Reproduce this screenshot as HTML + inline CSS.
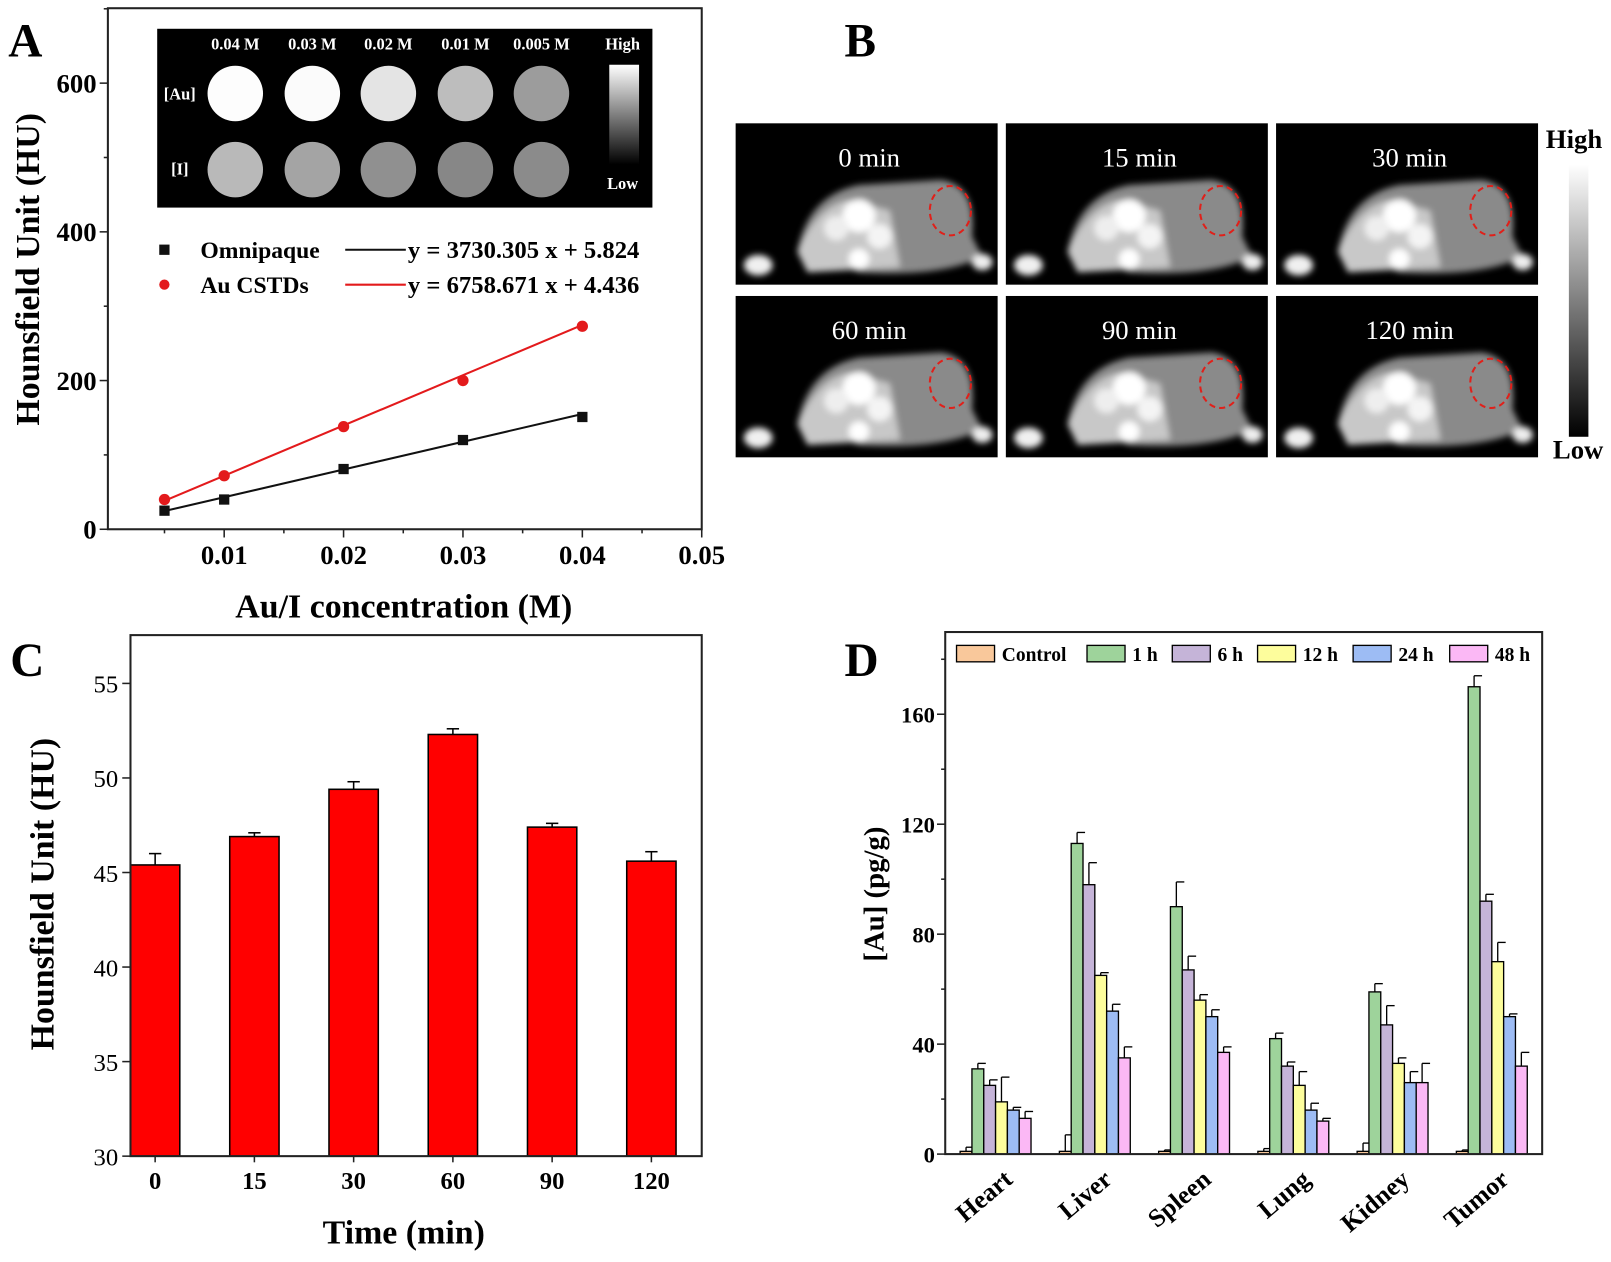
<!DOCTYPE html>
<html><head><meta charset="utf-8"><style>
html,body{margin:0;padding:0;background:#fff}
svg{display:block}
text{font-family:"Liberation Serif",serif;font-weight:bold;fill:#000}
</style></head><body>
<svg id="fig" width="1611" height="1262" viewBox="0 0 1568 1228" preserveAspectRatio="none" xmlns="http://www.w3.org/2000/svg">
<defs>
<linearGradient id="cbar" x1="0" y1="0" x2="0" y2="1"><stop offset="0" stop-color="#fff"/><stop offset="1" stop-color="#000"/></linearGradient>
<filter id="blur" x="-20%" y="-20%" width="140%" height="140%"><feGaussianBlur stdDeviation="3"/></filter>
</defs>
<g id="panelA"></g>
<g id="panelB"></g>
<g id="panelC"></g>
<g id="panelD"></g>
</svg>
<script>
// ---- Panel A data ----
const aConc = [0.005, 0.01, 0.02, 0.03, 0.04];
const aOmni = [25, 40, 81, 120, 151];
const aAu = [40, 72, 138, 200, 273];
const aOmniFit = [3730.305, 5.824];
const aAuFit = [6758.671, 4.436];
const aXTicks = [0.01, 0.02, 0.03, 0.04, 0.05];
const aYTicks = [0, 200, 400, 600];
const aInsetLabels = ["0.04 M", "0.03 M", "0.02 M", "0.01 M", "0.005 M"];
// ---- Panel B ----
const bTimes = ["0 min", "15 min", "30 min", "60 min", "90 min", "120 min"];
// ---- Panel C data ----
const cCats = ["0", "15", "30", "60", "90", "120"];
const cVals = [45.4, 46.9, 49.4, 52.3, 47.4, 45.6];
const cErrs = [0.6, 0.2, 0.4, 0.3, 0.2, 0.5];
const cYTicks = [30, 35, 40, 45, 50, 55];
// ---- Panel D data ----
const dOrgans = ["Heart", "Liver", "Spleen", "Lung", "Kidney", "Tumor"];
const dSeries = ["Control", "1 h", "6 h", "12 h", "24 h", "48 h"];
const dControl = [1, 1, 1, 1, 1, 1];
const d1h = [31, 113, 90, 42, 59, 170];
const d6h = [25, 98, 67, 32, 47, 92];
const d12h = [19, 65, 56, 25, 33, 70];
const d24h = [16, 52, 50, 16, 26, 50];
const d48h = [13, 35, 37, 12, 26, 32];
const dErrControl = [1.5, 6, 0.5, 1, 3, 0.5];
const dErr1h = [2, 4, 9, 2, 3, 4];
const dErr6h = [2, 8, 5, 1.5, 7, 2.5];
const dErr12h = [9, 1, 2, 5, 2, 7];
const dErr24h = [1, 2.5, 2.5, 2.5, 4, 1];
const dErr48h = [2.5, 4, 2, 1, 7, 5];
const dYTicks = [0, 40, 80, 120, 160];

const NS = "http://www.w3.org/2000/svg";
function mk(parent, tag, attrs, text) {
  const e = document.createElementNS(NS, tag);
  for (const k in attrs) e.setAttribute(k, attrs[k]);
  if (text !== undefined) e.textContent = text;
  parent.appendChild(e);
  return e;
}

// ================= Panel A =================
(function(){
  const g = document.getElementById('panelA');
  const L=105,R=683,T=8,B=515;
  const x = v => 102 + (v/0.05)*(683-102);
  const y = v => 515 - v*0.7235;
  let e = mk(g,'text',{x:8,y:55,'font-size':46},'A');
   
  e = mk(g,'rect',{x:L,y:T,width:R-L,height:B-T,fill:'none',stroke:'#222','stroke-width':2});
   
  aXTicks.forEach(t=>{
    mk(g,'line',{x1:x(t),x2:x(t),y1:B,y2:B+8,stroke:'#222','stroke-width':1.5});
    mk(g,'line',{x1:x(t-0.005),x2:x(t-0.005),y1:B,y2:B+4,stroke:'#222','stroke-width':1.5});
    e = mk(g,'text',{x:x(t),y:549,'font-size':26,'text-anchor':'middle'},t.toFixed(2));
     
  });
  aYTicks.forEach(t=>{
    mk(g,'line',{x1:L-8,x2:L,y1:y(t),y2:y(t),stroke:'#222','stroke-width':1.5});
    mk(g,'line',{x1:L-4,x2:L,y1:y(t+100),y2:y(t+100),stroke:'#222','stroke-width':1.5});
    e = mk(g,'text',{x:94,y:y(t)+9,'font-size':26,'text-anchor':'end'},String(t));
     
  });
  e = mk(g,'text',{x:393,y:601,'font-size':33,'text-anchor':'middle'},'Au/I concentration (M)');
   
  e = mk(g,'text',{x:0,y:0,'font-size':33,'text-anchor':'middle',transform:'translate(38,262) rotate(-90)'},'Hounsfield Unit (HU)');
   
  // inset
  const ins = mk(g,'g',{});
   
  mk(ins,'rect',{x:153,y:28,width:482,height:174,fill:'#000'});
  const cx=[229,304,378,453,527];
  const row1=['#fdfdfd','#fbfbfb','#e4e4e4','#bdbdbd','#9c9c9c'];
  const row2=['#b9b9b9','#a4a4a4','#909090','#878787','#8b8b8b'];
  aInsetLabels.forEach((l,i)=>{
    mk(ins,'text',{x:cx[i],y:48,'font-size':16,'text-anchor':'middle',style:'fill:#fff'},l);
    mk(ins,'ellipse',{cx:cx[i],cy:91,rx:27,ry:27,fill:row1[i]});
    mk(ins,'ellipse',{cx:cx[i],cy:165,rx:27,ry:27,fill:row2[i]});
  });
  mk(ins,'text',{x:606,y:48,'font-size':16,'text-anchor':'middle',style:'fill:#fff'},'High');
  mk(ins,'text',{x:606,y:184,'font-size':16,'text-anchor':'middle',style:'fill:#fff'},'Low');
  mk(ins,'text',{x:175,y:97,'font-size':16,'text-anchor':'middle',style:'fill:#fff'},'[Au]');
  mk(ins,'text',{x:175,y:170,'font-size':16,'text-anchor':'middle',style:'fill:#fff'},'[I]');
  mk(ins,'rect',{x:593,y:63,width:29,height:97,fill:'url(#cbar)'});
  // legend
  const lg = mk(g,'g',{});
   
  mk(lg,'rect',{x:155,y:238,width:10,height:10,fill:'#111'});
  mk(lg,'text',{x:195,y:251,'font-size':23},'Omnipaque');
  mk(lg,'line',{x1:336,x2:395,y1:243,y2:243,stroke:'#111','stroke-width':2});
  mk(lg,'text',{x:397,y:251,'font-size':24},'y = 3730.305 x + 5.824');
  mk(lg,'circle',{cx:160,cy:277,r:5,fill:'#e31a1c'});
  mk(lg,'text',{x:195,y:285,'font-size':23},'Au CSTDs');
  mk(lg,'line',{x1:336,x2:395,y1:277,y2:277,stroke:'#e31a1c','stroke-width':2});
  mk(lg,'text',{x:397,y:285,'font-size':24},'y = 6758.671 x + 4.436');
  // fit lines
  [[aOmniFit,'#111','fit-line-omnipaque'],[aAuFit,'#e31a1c','fit-line-au']].forEach(([f,c,n])=>{
    const x0=aConc[0], x1=aConc[aConc.length-1];
    e = mk(g,'line',{x1:x(x0),x2:x(x1),y1:y(f[0]*x0+f[1]),y2:y(f[0]*x1+f[1]),stroke:c,'stroke-width':2});
     
  });
  aConc.forEach((c,i)=>{
    e = mk(g,'rect',{x:x(c)-5,y:y(aOmni[i])-5,width:10,height:10,fill:'#111'});
     
    e = mk(g,'circle',{cx:x(c),cy:y(aAu[i]),r:5.5,fill:'#e31a1c'});
     
  });
})();

// ================= Panel B =================
(function(){
  const g = document.getElementById('panelB');
  let e = mk(g,'text',{x:822,y:55,'font-size':46},'B');
   
  const xs=[716,979,1242], ys=[120,288];
  bTimes.forEach((t,i)=>{
    const x0=xs[i%3], y0=ys[Math.floor(i/3)];
    const p = mk(g,'g',{});
     
    mk(p,'rect',{x:x0,y:y0,width:255,height:157,fill:'#000'});
    const m = mk(p,'g',{filter:'url(#blur)'});
    mk(m,'path',{d:`M${x0+60} ${y0+125} Q${x0+70} ${y0+70} ${x0+120} ${y0+60} L${x0+200} ${y0+55} Q${x0+235} ${y0+60} ${x0+230} ${y0+110} L${x0+240} ${y0+130} Q${x0+200} ${y0+150} ${x0+120} ${y0+145} Z`,fill:'#8a8a8a'});
    mk(m,'path',{d:`M${x0+60} ${y0+125} Q${x0+80} ${y0+80} ${x0+110} ${y0+75} L${x0+150} ${y0+85} L${x0+160} ${y0+140} L${x0+70} ${y0+145} Z`,fill:'#c8c8c8'});
    mk(m,'circle',{cx:x0+120,cy:y0+90,r:16,fill:'#fff'});
    mk(m,'circle',{cx:x0+98,cy:y0+102,r:12,fill:'#eee'});
    mk(m,'circle',{cx:x0+140,cy:y0+110,r:12,fill:'#f4f4f4'});
    mk(m,'circle',{cx:x0+120,cy:y0+132,r:10,fill:'#fff'});
    mk(m,'ellipse',{cx:x0+22,cy:y0+138,rx:14,ry:10,fill:'#f0f0f0'});
    mk(m,'ellipse',{cx:x0+240,cy:y0+135,rx:10,ry:8,fill:'#eee'});
    mk(p,'text',{x:x0+130,y:y0+42,'font-size':26,'text-anchor':'middle',style:'fill:#fff;font-weight:normal'},t);
    mk(p,'ellipse',{cx:x0+209,cy:y0+85,rx:20,ry:24,fill:'none',stroke:'#e0201a','stroke-width':2,'stroke-dasharray':'6,4'});
  });
  e = mk(g,'rect',{x:1527,y:160,width:19,height:265,fill:'url(#cbar)'});
   
  mk(g,'text',{x:1532,y:144,'font-size':26,'text-anchor':'middle'},'High');
  mk(g,'text',{x:1536,y:446,'font-size':26,'text-anchor':'middle'},'Low');
})();

// ================= Panel C =================
(function(){
  const g = document.getElementById('panelC');
  const L=127,R=683,T=618,B=1125;
  const y = v => 1125 - (v-30)*18.4;
  const xc = i => 151 + i*96.6;
  let e = mk(g,'text',{x:10,y:658,'font-size':46},'C');
   
  cYTicks.forEach(t=>{
    mk(g,'line',{x1:L-8,x2:L,y1:y(t),y2:y(t),stroke:'#222','stroke-width':1.5});
    e = mk(g,'text',{x:115,y:y(t)+9,'font-size':24,'text-anchor':'end',style:'font-weight:normal'},String(t));
     
  });
  cCats.forEach((c,i)=>{
    mk(g,'line',{x1:xc(i),x2:xc(i),y1:B,y2:B+6,stroke:'#222','stroke-width':1.5});
    e = mk(g,'text',{x:xc(i),y:1157,'font-size':24,'text-anchor':'middle'},c);
     
    const top = y(cVals[i]);
    e = mk(g,'line',{x1:xc(i),x2:xc(i),y1:top,y2:y(cVals[i]+cErrs[i]),stroke:'#000','stroke-width':1.5});
     
    mk(g,'line',{x1:xc(i)-6,x2:xc(i)+6,y1:y(cVals[i]+cErrs[i]),y2:y(cVals[i]+cErrs[i]),stroke:'#000','stroke-width':1.5});
    e = mk(g,'rect',{x:xc(i)-24,y:top,width:48,height:B-top,fill:'#ff0000',stroke:'#000','stroke-width':1.5});
     
  });
  e = mk(g,'rect',{x:L,y:T,width:R-L,height:B-T,fill:'none',stroke:'#222','stroke-width':2});
   
  e = mk(g,'text',{x:393,y:1210,'font-size':33,'text-anchor':'middle'},'Time (min)');
   
  e = mk(g,'text',{x:0,y:0,'font-size':33,'text-anchor':'middle',transform:'translate(52,870) rotate(-90)'},'Hounsfield Unit  (HU)');
   
})();

// ================= Panel D =================
(function(){
  const g = document.getElementById('panelD');
  const L=920,R=1501,T=615,B=1123;
  const y = v => 1123 - v*2.675;
  const gc = i => 969 + i*96.6;
  const colors=['#f9c89b','#9ed39b','#c5b4d8','#fdfd9c','#9dbcf4','#fbb8f5'];
  const vals=[dControl,d1h,d6h,d12h,d24h,d48h];
  const errs=[dErrControl,dErr1h,dErr6h,dErr12h,dErr24h,dErr48h];
  const bw=11.5;
  let e = mk(g,'text',{x:822,y:658,'font-size':46},'D');
   
  dYTicks.forEach(t=>{
    mk(g,'line',{x1:L-8,x2:L,y1:y(t),y2:y(t),stroke:'#222','stroke-width':1.5});
    mk(g,'line',{x1:L-4,x2:L,y1:y(t+20),y2:y(t+20),stroke:'#222','stroke-width':1.5});
    e = mk(g,'text',{x:910,y:y(t)+8,'font-size':22,'text-anchor':'end'},String(t));
     
  });
  dOrgans.forEach((o,i)=>{
    vals.forEach((s,j)=>{
      const xl = gc(i) - 3*bw + j*bw;
      const top = y(s[i]), et = y(s[i]+errs[j][i]);
      e = mk(g,'line',{x1:xl+bw/2,x2:xl+bw/2,y1:top,y2:et,stroke:'#000','stroke-width':1.3});
       
      mk(g,'line',{x1:xl+bw/2,x2:xl+bw+2,y1:et,y2:et,stroke:'#000','stroke-width':1.3});
      e = mk(g,'rect',{x:xl,y:top,width:bw,height:B-top,fill:colors[j],stroke:'#000','stroke-width':1.3});
       
    });
    e = mk(g,'text',{x:0,y:0,'font-size':25,'text-anchor':'end',transform:`translate(${gc(i)+18},${1150}) rotate(-40)`},o);
     
  });
  e = mk(g,'rect',{x:L,y:T,width:R-L,height:B-T,fill:'none',stroke:'#222','stroke-width':2});
   
  const lx=[931,1058,1141,1224,1317,1411];
  dSeries.forEach((s,j)=>{
    e = mk(g,'rect',{x:lx[j],y:628,width:37,height:16,fill:colors[j],stroke:'#000','stroke-width':1.3});
     
    e = mk(g,'text',{x:lx[j]+44,y:643,'font-size':19},s);
     
  });
  e = mk(g,'text',{x:0,y:0,'font-size':28,'text-anchor':'middle',transform:'translate(860,870) rotate(-90)'},'[Au] (pg/g)');
   
})();
</script>
</body></html>
